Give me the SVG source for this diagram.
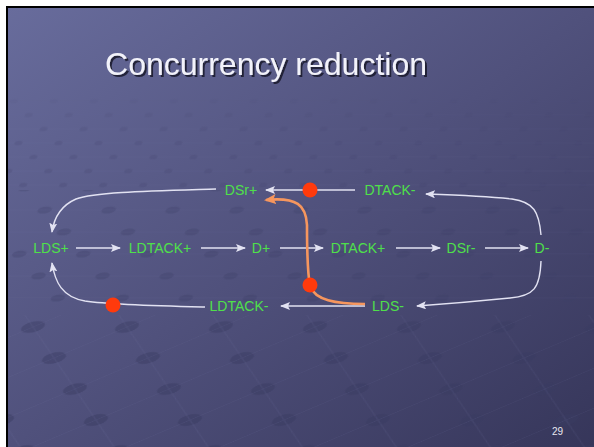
<svg xmlns="http://www.w3.org/2000/svg" width="594" height="447" viewBox="0 0 594 447">
  <defs>
    <linearGradient id="bg" x1="0" y1="0" x2="1" y2="1">
      <stop offset="0" stop-color="#686c9c"/>
      <stop offset="0.5" stop-color="#50517c"/>
      <stop offset="1" stop-color="#36365a"/>
    </linearGradient>
    <linearGradient id="fadeG" x1="0" y1="0" x2="0" y2="1">
      <stop offset="0" stop-color="#000"/>
      <stop offset="0.2" stop-color="#000"/>
      <stop offset="0.35" stop-color="#fff" stop-opacity="0.6"/>
      <stop offset="1" stop-color="#fff"/>
    </linearGradient>
    <mask id="fade">
      <rect x="0" y="0" width="594" height="447" fill="url(#fadeG)"/>
    </mask>
    <filter id="shadow" x="-5%" y="-20%" width="110%" height="140%">
      <feDropShadow dx="2" dy="2" stdDeviation="0.6" flood-color="#15152a" flood-opacity="0.85"/>
    </filter>
    <!-- studded floor texture, three scales for depth -->
    <pattern id="studS" width="40" height="28" patternUnits="userSpaceOnUse" patternTransform="translate(10,95) skewX(-20)">
      <ellipse cx="6" cy="6" rx="4" ry="2" fill="#42436c" opacity="0.45"/>
      <ellipse cx="26" cy="20" rx="4" ry="2" fill="#42436c" opacity="0.45"/>
      <path d="M0,6 H40 M0,20 H40" stroke="#8a8cc0" stroke-width="0.5" opacity="0.18"/>
    </pattern>
    <pattern id="studM" width="64" height="44" patternUnits="userSpaceOnUse" patternTransform="translate(20,180) skewX(-30)">
      <ellipse cx="10" cy="8" rx="7" ry="3.5" fill="#3f4068" opacity="0.45"/>
      <ellipse cx="42" cy="30" rx="7" ry="3.5" fill="#3f4068" opacity="0.45"/>
      <path d="M0,8 H64 M0,30 H64" stroke="#8a8cc0" stroke-width="0.5" opacity="0.15"/>
    </pattern>
    <pattern id="studL" width="94" height="62" patternUnits="userSpaceOnUse" patternTransform="translate(33,327) skewX(-40)">
      <ellipse cx="0" cy="0" rx="11" ry="6" fill="#3a3b62" opacity="0.5"/>
      <ellipse cx="94" cy="0" rx="11" ry="6" fill="#3a3b62" opacity="0.5"/>
      <ellipse cx="0" cy="62" rx="11" ry="6" fill="#3a3b62" opacity="0.5"/>
      <ellipse cx="94" cy="62" rx="11" ry="6" fill="#3a3b62" opacity="0.5"/>
      <ellipse cx="47" cy="31" rx="11" ry="6" fill="#3a3b62" opacity="0.5"/>
      <path d="M0,0 L94,62 M94,0 L0,62" stroke="#8a8cc0" stroke-width="0.6" opacity="0.18"/>
    </pattern>
    <marker id="ah" viewBox="0 0 10 8" refX="9" refY="4" markerWidth="10" markerHeight="8" markerUnits="userSpaceOnUse" orient="auto">
      <path d="M0,0 L10,4 L0,8 L2,4 z" fill="#e2e2f2"/>
    </marker>
    <marker id="ahO" viewBox="0 0 12 10" refX="10" refY="5" markerWidth="12" markerHeight="10" markerUnits="userSpaceOnUse" orient="auto">
      <path d="M0,0 L12,5 L0,10 L2.5,5 z" fill="#f6965e"/>
    </marker>
    <style>
      .node { font-family: "Liberation Sans", Arial, sans-serif; font-size: 14px; fill: #4fe04a; text-anchor: middle; }
      .edge { fill: none; stroke: #e2e2f2; stroke-width: 1.4; marker-end: url(#ah); }
      .tok { fill: #ff3a0c; }
      .title { font-family: "Liberation Sans", Arial, sans-serif; font-size: 32px; text-anchor: middle; fill: #f2f2fa; filter: url(#shadow); }
    </style>
  </defs>

  <!-- page frame -->
  <rect x="0" y="0" width="594" height="447" fill="#ffffff"/>
  <rect x="6" y="6" width="588" height="441" fill="#000000"/>
  <rect x="8" y="8" width="586" height="439" fill="url(#bg)"/>

  <!-- floor texture -->
  <g mask="url(#fade)">
    <rect x="8" y="95" width="586" height="95" fill="url(#studS)"/>
    <rect x="8" y="190" width="586" height="125" fill="url(#studM)"/>
    <rect x="8" y="315" width="586" height="132" fill="url(#studL)"/>
  </g>

  <!-- title -->
  <text class="title" x="266" y="75">Concurrency reduction</text>

  <!-- connectors -->
  <g id="edges">
    <path class="edge" d="M76,248 H120"/>
    <path class="edge" d="M201,248 H245"/>
    <path class="edge" d="M280,248 H323"/>
    <path class="edge" d="M396,248 H440"/>
    <path class="edge" d="M485,248 H528"/>
    <path class="edge" d="M355,190 H266"/>
    <path class="edge" d="M365,306 H281"/>
    <path class="edge" d="M541,235 C539,212 534,202 512,199 C485,196 455,195 426,194"/>
    <path class="edge" d="M541,261 C540,288 534,296 510,298 C480,301 445,304 417,306"/>
    <path class="edge" d="M216,189 C150,191 95,192 76,199 C60,206 54,218 52,232"/>
    <path class="edge" d="M205,307 C160,306 112,305 85,301 C62,297 55,282 52,263"/>
    <path d="M365,304 C335,304 315,300 310,286 C307,270 307,240 307,225 C306,205 297,197 266,200" fill="none" stroke="#f6965e" stroke-width="2.6" marker-end="url(#ahO)"/>
  </g>

  <!-- tokens -->
  <g id="tokens">
    <circle class="tok" cx="310" cy="190" r="7.5"/>
    <circle class="tok" cx="310" cy="285" r="7.5"/>
    <circle class="tok" cx="113" cy="305" r="7.5"/>
  </g>

  <!-- transitions -->
  <g id="n-DSrP"><text class="node" x="241" y="195">DSr+</text></g>
  <g id="n-DTACKM"><text class="node" x="390" y="195">DTACK-</text></g>
  <g id="n-LDSP"><text class="node" x="51" y="253">LDS+</text></g>
  <g id="n-LDTACKP"><text class="node" x="160" y="253">LDTACK+</text></g>
  <g id="n-DP"><text class="node" x="261" y="253">D+</text></g>
  <g id="n-DTACKP"><text class="node" x="358" y="253">DTACK+</text></g>
  <g id="n-DSrM"><text class="node" x="461" y="253">DSr-</text></g>
  <g id="n-DM"><text class="node" x="542" y="253">D-</text></g>
  <g id="n-LDTACKM"><text class="node" x="239" y="311">LDTACK-</text></g>
  <g id="n-LDSM"><text class="node" x="388" y="311">LDS-</text></g>

  <!-- slide number -->
  <text x="552" y="435" font-family="Liberation Sans, Arial, sans-serif" font-size="10" fill="#e8e8f0">29</text>
</svg>
